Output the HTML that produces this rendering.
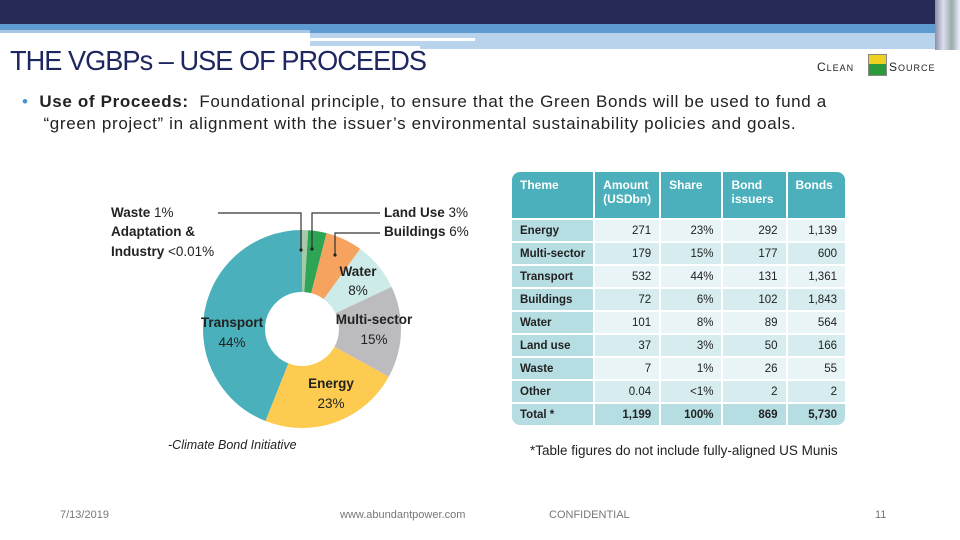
<!DOCTYPE html>
<html><head><meta charset="utf-8"><style>
body{margin:0;width:960px;height:540px;position:relative;overflow:hidden;background:#fff;font-family:"Liberation Sans",sans-serif}
.a{position:absolute;white-space:nowrap}
table{border-collapse:separate;border-spacing:0;font-size:11.5px;color:#222}
td{height:21px;border-bottom:2px solid #fff;border-right:2px solid #fff;padding:0 8px;text-align:right}
td:first-child{text-align:left;font-weight:bold;background:#b6dde2}
tr.h td{background:#4bb0bb;color:#fff;font-weight:bold;text-align:left;vertical-align:top;height:40px;padding-top:6px;font-size:12px}
tr.o td:not(:first-child){background:#e8f4f6}
tr.e td:not(:first-child){background:#d6ecef}
tr.t td{background:#b6dde2;font-weight:bold;border-bottom:none}
.d{font-size:13.5px;color:#222}
</style></head><body>
<div class="a" style="left:0;top:0;width:960px;height:24px;background:#252a56"></div>
<div class="a" style="left:0;top:24px;width:960px;height:9px;background:#5d9bd0"></div>
<div class="a" style="left:0;top:30px;width:310px;height:3px;background:#a9c8e6"></div>
<div class="a" style="left:310px;top:33px;width:650px;height:16px;background:#b9d3ec"></div>
<div class="a" style="left:310px;top:38px;width:165px;height:3px;background:#fff"></div>
<div class="a" style="left:310px;top:46px;width:110px;height:3px;background:#fff"></div>
<div class="a" style="left:935px;top:0;width:25px;height:50px;background:linear-gradient(90deg,#8a90a8,#dde,#9aa,#eef)"></div>
<div class="a" style="left:10px;top:45px;font-size:28px;color:#1f2760;letter-spacing:-1px;transform:scaleX(0.97);transform-origin:left">THE VGBPs – USE OF PROCEEDS</div>
<div class="a" style="left:817px;top:60px;font-size:12px;color:#222;letter-spacing:1px">C<span style="font-size:9px">LEAN</span></div>
<div class="a" style="left:868px;top:54px;width:17px;height:20px;background:linear-gradient(#f0d020 45%,#2a9a3a 45%);border:1px solid #888"></div>
<div class="a" style="left:889px;top:60px;font-size:12px;color:#222;letter-spacing:1px">S<span style="font-size:9px">OURCE</span></div>
<div class="a" style="left:22px;top:91px;font-size:17px;color:#222;line-height:22px;letter-spacing:0.65px"><span style="color:#4a90d0">•</span>&nbsp; <b>Use of Proceeds:</b>&nbsp; Foundational principle, to ensure that the Green Bonds will be used to fund a<br>&nbsp;&nbsp;&nbsp; “green project” in alignment with the issuer’s environmental sustainability policies and goals.</div>
<svg class="a" style="left:0;top:0" width="960" height="540">
<g transform="rotate(-90 302 329)" fill="none" stroke-width="62">
<circle cx="302" cy="329" r="68" stroke="#a8c9a8" stroke-dasharray="4.27 500" stroke-dashoffset="0"/>
<circle cx="302" cy="329" r="68" stroke="#2ea555" stroke-dasharray="12.82 500" stroke-dashoffset="-4.27"/>
<circle cx="302" cy="329" r="68" stroke="#f6a35f" stroke-dasharray="25.64 500" stroke-dashoffset="-17.09"/>
<circle cx="302" cy="329" r="68" stroke="#cdebe8" stroke-dasharray="34.18 500" stroke-dashoffset="-42.73"/>
<circle cx="302" cy="329" r="68" stroke="#bcbcbf" stroke-dasharray="64.09 500" stroke-dashoffset="-76.91"/>
<circle cx="302" cy="329" r="68" stroke="#fdcb4f" stroke-dasharray="98.27 500" stroke-dashoffset="-141"/>
<circle cx="302" cy="329" r="68" stroke="#4ab0bb" stroke-dasharray="188 500" stroke-dashoffset="-239.27"/>
</g>
<g stroke="#333" stroke-width="1.2" fill="none">
<polyline points="218,213 301,213 301,250"/>
<polyline points="380,213 312,213 312,249"/>
<polyline points="380,233 335,233 335,255"/>
</g>
<circle cx="301" cy="250" r="1.6" fill="#222"/><circle cx="312" cy="249" r="1.6" fill="#222"/><circle cx="335" cy="255" r="1.6" fill="#222"/>
</svg>
<div class="a d" style="left:111px;top:205px"><b>Waste</b> 1%</div>
<div class="a d" style="left:111px;top:224px"><b>Adaptation &amp;</b></div>
<div class="a d" style="left:111px;top:244px"><b>Industry</b> &lt;0.01%</div>
<div class="a d" style="left:384px;top:205px"><b>Land Use</b> 3%</div>
<div class="a d" style="left:384px;top:224px"><b>Buildings</b> 6%</div>
<div class="a d" style="left:338px;top:264px;text-align:center;width:40px"><b>Water</b><br><span style="line-height:24px">8%</span></div>
<div class="a d" style="left:333px;top:310px;text-align:center;width:82px;line-height:20px"><b>Multi-sector</b><br>15%</div>
<div class="a d" style="left:199px;top:313px;text-align:center;width:66px;line-height:20px"><b>Transport</b><br>44%</div>
<div class="a d" style="left:303px;top:374px;text-align:center;width:56px;line-height:20px"><b>Energy</b><br>23%</div>
<div class="a" style="left:168px;top:438px;font-size:12.5px;font-style:italic;color:#222">-Climate Bond Initiative</div>
<div class="a" style="left:512px;top:172px;width:333px;border-radius:8px;overflow:hidden">
<table style="width:335px">
<tr class="h"><td style="width:64px">Theme</td><td style="width:47px">Amount<br>(USDbn)</td><td style="width:47px">Share</td><td style="width:47px">Bond<br>issuers</td><td style="width:45px;border-right:none">Bonds</td></tr>
<tr class="o"><td>Energy</td><td>271</td><td>23%</td><td>292</td><td>1,139</td></tr>
<tr class="e"><td>Multi-sector</td><td>179</td><td>15%</td><td>177</td><td>600</td></tr>
<tr class="o"><td>Transport</td><td>532</td><td>44%</td><td>131</td><td>1,361</td></tr>
<tr class="e"><td>Buildings</td><td>72</td><td>6%</td><td>102</td><td>1,843</td></tr>
<tr class="o"><td>Water</td><td>101</td><td>8%</td><td>89</td><td>564</td></tr>
<tr class="e"><td>Land use</td><td>37</td><td>3%</td><td>50</td><td>166</td></tr>
<tr class="o"><td>Waste</td><td>7</td><td>1%</td><td>26</td><td>55</td></tr>
<tr class="e"><td>Other</td><td>0.04</td><td>&lt;1%</td><td>2</td><td>2</td></tr>
<tr class="t"><td>Total *</td><td>1,199</td><td>100%</td><td>869</td><td>5,730</td></tr>
</table></div>
<div class="a" style="left:530px;top:443px;font-size:13.5px;color:#222">*Table figures do not include fully-aligned US Munis</div>
<div class="a" style="left:60px;top:509px;font-size:11px;color:#777">7/13/2019</div>
<div class="a" style="left:340px;top:509px;font-size:11px;color:#777">www.abundantpower.com</div>
<div class="a" style="left:549px;top:509px;font-size:11px;color:#777">CONFIDENTIAL</div>
<div class="a" style="left:875px;top:509px;font-size:11px;color:#777">11</div>
</body></html>
